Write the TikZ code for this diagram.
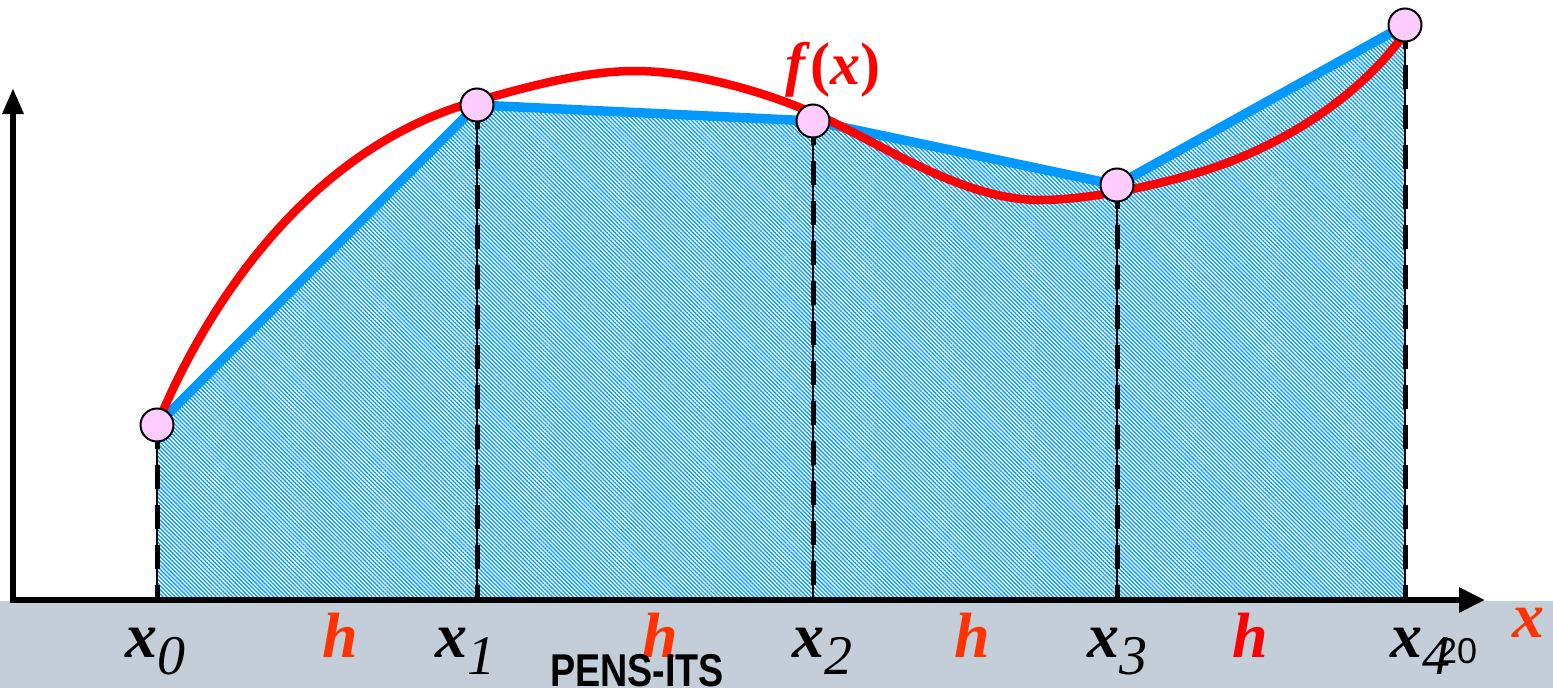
\documentclass[tikz,border=0pt]{standalone}
\usepackage{fontspec}
\setmainfont{Liberation Serif}
\setsansfont{Liberation Sans}
\usetikzlibrary{patterns.meta,arrows.meta}
\definecolor{band}{HTML}{C3CED9}
\definecolor{hatch}{HTML}{0099FF}
\definecolor{pinkpt}{HTML}{FFCCFF}
\definecolor{hred}{HTML}{FF3300}
\newcommand{\xlab}[1]{{\fontsize{64}{64}\selectfont\bfseries\itshape x}{\fontsize{56}{56}\selectfont\itshape\raisebox{-17pt}{#1}}}
\begin{document}
\begin{tikzpicture}[x={(1pt,0)},y={(0,-1pt)},
  pt/.style={circle,draw=black,line width=2pt,fill=pinkpt,minimum size=33pt,inner sep=0pt},
  xl/.style={inner sep=0pt,anchor=base},
  hl/.style={inner sep=0pt,anchor=base,text=hred,font=\fontsize{64}{64}\selectfont\bfseries\itshape},
  vthin/.style={line width=1.5pt,black},
  vdash/.style={line width=5pt,black,dash pattern=on 24pt off 16pt}]
\useasboundingbox (0,0) rectangle (1553,688);
\fill[band] (0,601) rectangle (1553,688);
% points
\coordinate (c0) at (157,425);
\coordinate (c1) at (477,105);
\coordinate (c2) at (813,121);
\coordinate (c3) at (1117,185);
\coordinate (c4) at (1405,25);
\coordinate (b0) at (157,600);
\coordinate (b1) at (477,600);
\coordinate (b2) at (813,600);
\coordinate (b3) at (1117,600);
\coordinate (b4) at (1405,600);
% hatched area
\fill[pattern={Lines[angle=-45,distance=2.9pt,line width=1.3pt]},pattern color=hatch]
  (b0) -- (c0) -- (c1) -- (c2) -- (c3) -- (c4) -- (b4) -- cycle;
\draw[hatch,line width=9.5pt,line join=round] (c0) -- (c1) -- (c2) -- (c3) -- (c4);
% red curve
\draw[red,line width=8.5pt,line cap=round]
  (157,425) .. controls (200,320) and (300,150) .. (477,101)
  .. controls (530,86) and (585,71) .. (635,71)
  .. controls (690,71) and (760,90) .. (813,113)
  .. controls (880,142) and (960,200) .. (1040,200)
  .. controls (1080,200) and (1140,190) .. (1200,172)
  .. controls (1260,154) and (1350,110) .. (1405,33);
% dashed verticals
\foreach \i in {0,...,4}{
  \draw[vthin] (c\i) -- (b\i);
  \draw[vdash] (c\i) -- (b\i);
}
% axes
\coordinate (o) at (10,600);
\coordinate (xe) at (1485,600);
\coordinate (ys) at (13,603);
\coordinate (ye) at (13,88);
\draw[line width=6pt,-{Triangle[length=26pt,width=24pt]}] (o) -- (xe);
\draw[line width=6pt,-{Triangle[length=26pt,width=20pt]}] (ys) -- (ye);
% nodes
\node[pt] (p0) at (c0) {};
\node[pt] (p1) at (c1) {};
\node[pt] (p2) at (c2) {};
\node[pt] (p3) at (c3) {};
\node[pt] (p4) at (c4) {};
% labels
\node[text=red,font=\fontsize{60}{60}\selectfont\bfseries,inner sep=0pt,anchor=base] (fx) at (833,84) {\textit{f}(\textit{x})};
\node[xl] (lx0) at (155,657) {\xlab{0}};
\node[xl] (lx1) at (465,657) {\xlab{1}};
\node[xl] (lx2) at (822,657) {\xlab{2}};
\node[xl] (lx3) at (1117,657) {\xlab{3}};
\node[xl] (lx4) at (1420,657) {\xlab{4}};
\node[hl] (h1) at (340,657) {h};
\node[hl] (h2) at (660,657) {h};
\node[hl] (h3) at (972,657) {h};
\node[hl,text=red] (h4) at (1250,657) {h};
\node[hl] (xx) at (1528,637) {x};
\node[inner sep=0pt,anchor=base west,font=\sffamily\fontsize{36}{36}\selectfont] (pg) at (1437,663) {20};
\node[inner sep=0pt,anchor=base,font=\sffamily\bfseries\fontsize{46}{46}\selectfont,xscale=0.82] (pens) at (637,686) {PENS-ITS};
\end{tikzpicture}
\end{document}
